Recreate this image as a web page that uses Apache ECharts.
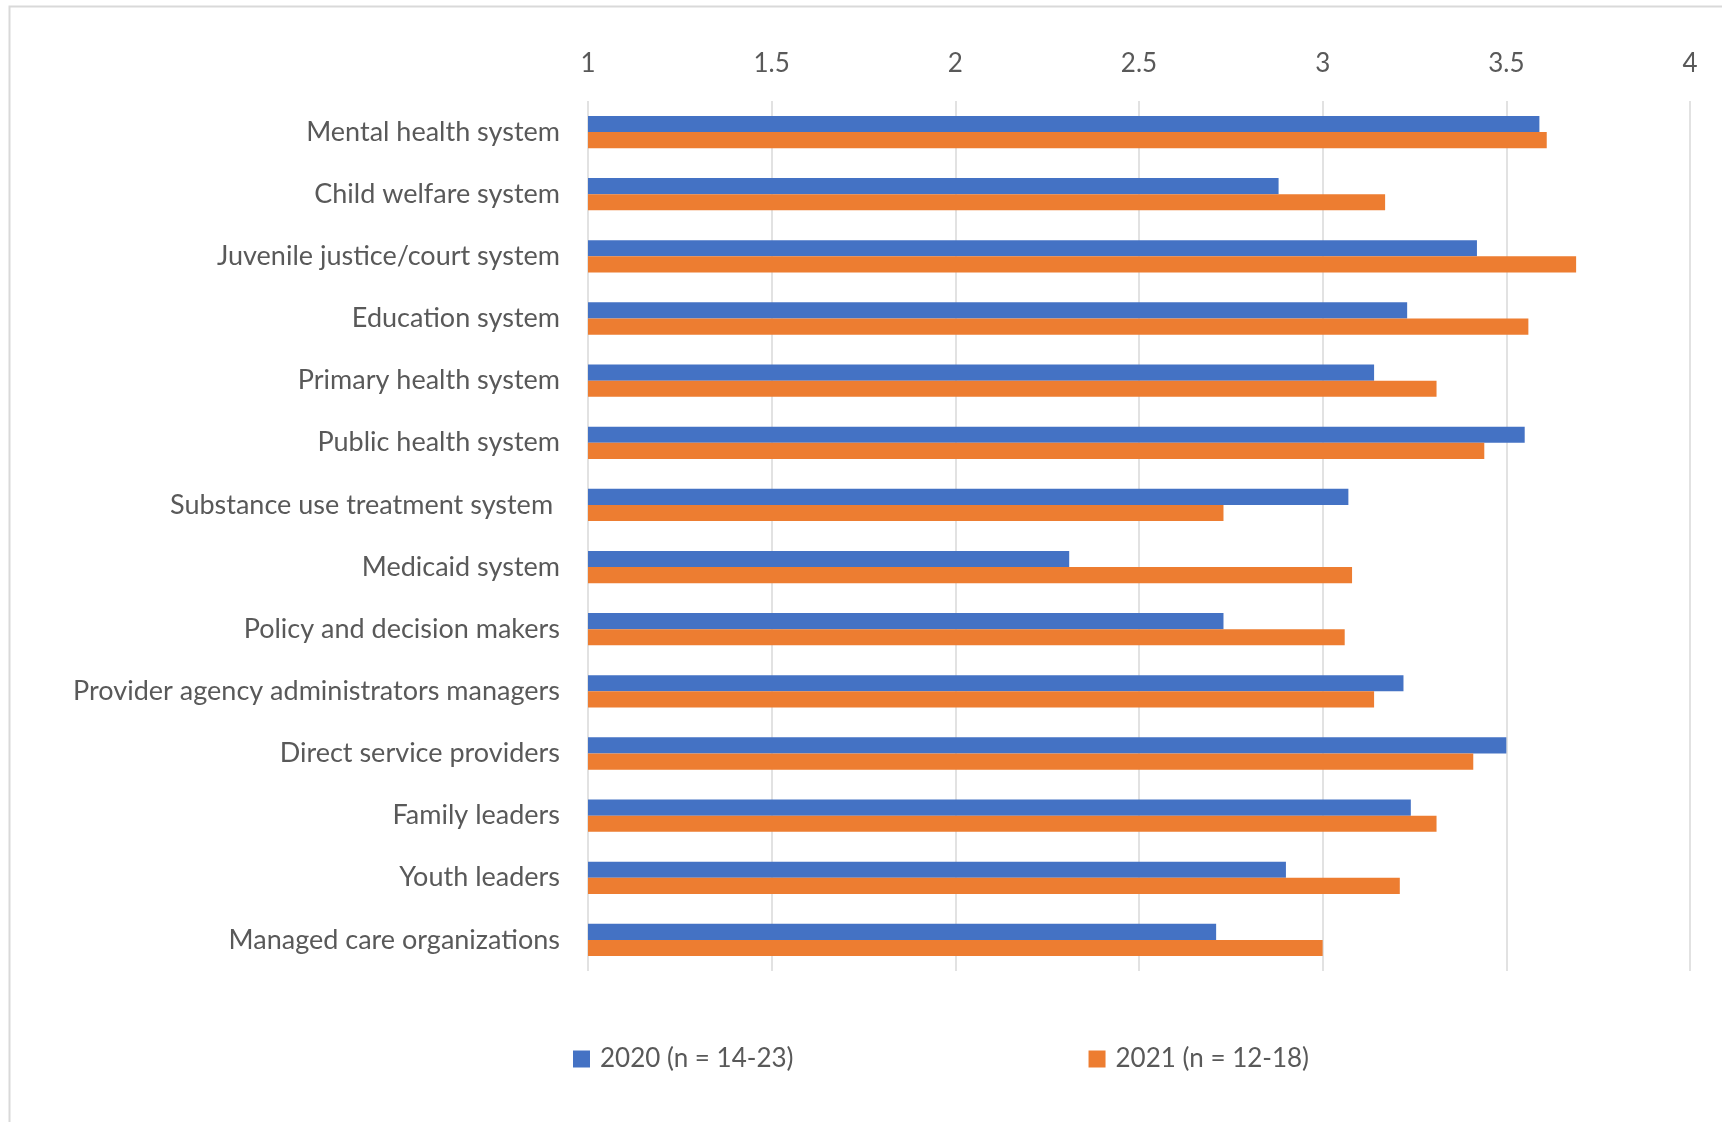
<!DOCTYPE html>
<html>
<head>
<meta charset="utf-8">
<script src="https://cdn.jsdelivr.net/npm/echarts@6/dist/echarts.min.js"></script>
<style>
  html, body { margin: 0; padding: 0; background: #ffffff; }
  #chart { width: 1722px; height: 1122px; }
</style>
</head>
<body>
<div id="chart"></div>
<script>
const categories = [
  "Mental health system",
  "Child welfare system",
  "Juvenile justice/court system",
  "Education system",
  "Primary health system",
  "Public health system",
  "Substance use treatment system ",
  "Medicaid system",
  "Policy and decision makers",
  "Provider agency administrators managers",
  "Direct service providers",
  "Family leaders",
  "Youth leaders",
  "Managed care organizations"
];
const values2020 = [3.59, 2.88, 3.42, 3.23, 3.14, 3.55, 3.07, 2.31, 2.73, 3.22, 3.50, 3.24, 2.90, 2.71];
const values2021 = [3.61, 3.17, 3.69, 3.56, 3.31, 3.44, 2.73, 3.08, 3.06, 3.14, 3.41, 3.31, 3.21, 3.00];
const seriesNames = ["2020 (n = 14-23)", "2021 (n = 12-18)"];
const xTicks = { min: 1, max: 4, interval: 0.5 };

const FONT = "Lato";
const chart = echarts.init(document.getElementById('chart'), null, { renderer: 'canvas' });
chart.setOption({
  backgroundColor: '#ffffff',
  animation: false,
  textStyle: { fontFamily: FONT },
  graphic: [{
    type: 'rect',
    left: 7, top: 4,
    shape: { width: 1800, height: 1200 },
    style: { fill: 'none', stroke: '#d9d9d9', lineWidth: 2 },
    silent: true
  }],
  legend: {
    left: 573,
    top: 1046,
    padding: 0,
    itemWidth: 17,
    itemHeight: 17,
    itemGap: 295,
    icon: 'rect',
    textStyle: { fontFamily: FONT, fontSize: 26, color: '#595959', padding: [0, 0, 0, 5] },
    data: seriesNames
  },
  grid: { left: 588, right: 32, top: 101, bottom: 151, containLabel: false },
  xAxis: {
    type: 'value',
    position: 'top',
    min: xTicks.min, max: xTicks.max, interval: xTicks.interval,
    axisLine: { show: false },
    axisTick: { show: false },
    axisLabel: { color: '#595959', fontSize: 26, fontFamily: FONT, margin: 24 },
    splitLine: { show: true, lineStyle: { color: '#d9d9d9', width: 1.5 } }
  },
  yAxis: {
    type: 'category',
    inverse: true,
    data: categories,
    axisLine: { show: false },
    axisTick: { show: false },
    axisLabel: { color: '#595959', fontSize: 27, fontFamily: FONT, margin: 28 }
  },
  series: [
    { name: seriesNames[0], type: 'bar', data: values2020, barGap: '0%', barCategoryGap: '48%',
      itemStyle: { color: '#4472C4' } },
    { name: seriesNames[1], type: 'bar', data: values2021, barGap: '0%', barCategoryGap: '48%',
      itemStyle: { color: '#ED7D31' } }
  ]
});
</script>
</body>
</html>
